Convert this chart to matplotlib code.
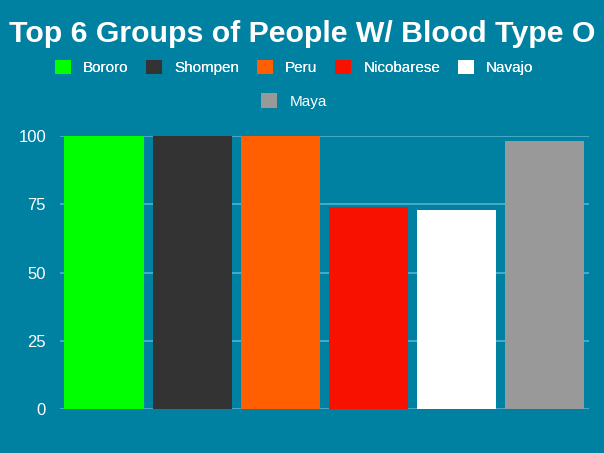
"""
    bar chart: top 6 groups with blood type O
"""
import matplotlib.pyplot as plt
from matplotlib.patches import Patch

groups = ["Bororo", "Shompen", "Peru", "Nicobarese", "Navajo", "Maya"]
values = [100, 100, 100, 74, 73, 98]
colors = ["#00ff00", "#333333", "#ff5f00", "#f91100", "#ffffff", "#999999"]
yticks = [0, 25, 50, 75, 100]

bg = "#0081a2"
grid = "#52b2cc"

plt.rcParams['font.family'] = ['Liberation Sans', 'DejaVu Sans']

fig = plt.figure(figsize=(6.04, 4.53), dpi=100, facecolor=bg)
ax = fig.add_axes([0.0993, 0.0971, 0.8757, 0.6027], facecolor=bg)

ax.bar(range(len(groups)), values, width=0.9, color=colors, zorder=3)
ax.set_xlim(-0.5, len(groups) - 0.5)
ax.set_ylim(0, 100)
ax.set_yticks(yticks)
ax.set_xticks([])
ax.grid(axis="y", color=grid, linewidth=1.2, zorder=0)
ax.tick_params(axis="y", length=0, colors="white", labelsize=12, pad=10)
for s in ax.spines.values():
    s.set_visible(False)
ax.set_axisbelow(True)

fig.text(0.5, 0.925, "Top 6 Groups of People W/ Blood Type O", ha="center", va="center",
         color="white", fontsize=21.8, fontweight="bold")

# legend: 5 on first row, Maya centered on the second
handles = [Patch(facecolor=c, edgecolor="none") for c in colors]
leg1 = fig.legend(handles[:5], groups[:5], ncol=5, loc="center", bbox_to_anchor=(0.487, 0.851),
                  frameon=False, labelcolor="white", fontsize=11, handlelength=1.05,
                  handleheight=1.05, handletextpad=0.8, columnspacing=1.15)
fig.legend(handles[5:], groups[5:], loc="center", bbox_to_anchor=(0.487, 0.777),
           frameon=False, labelcolor="white", fontsize=11, handlelength=1.05,
           handleheight=1.05, handletextpad=0.8)
fig.add_artist(leg1)

plt.savefig("out.png", dpi=100, facecolor=bg)
